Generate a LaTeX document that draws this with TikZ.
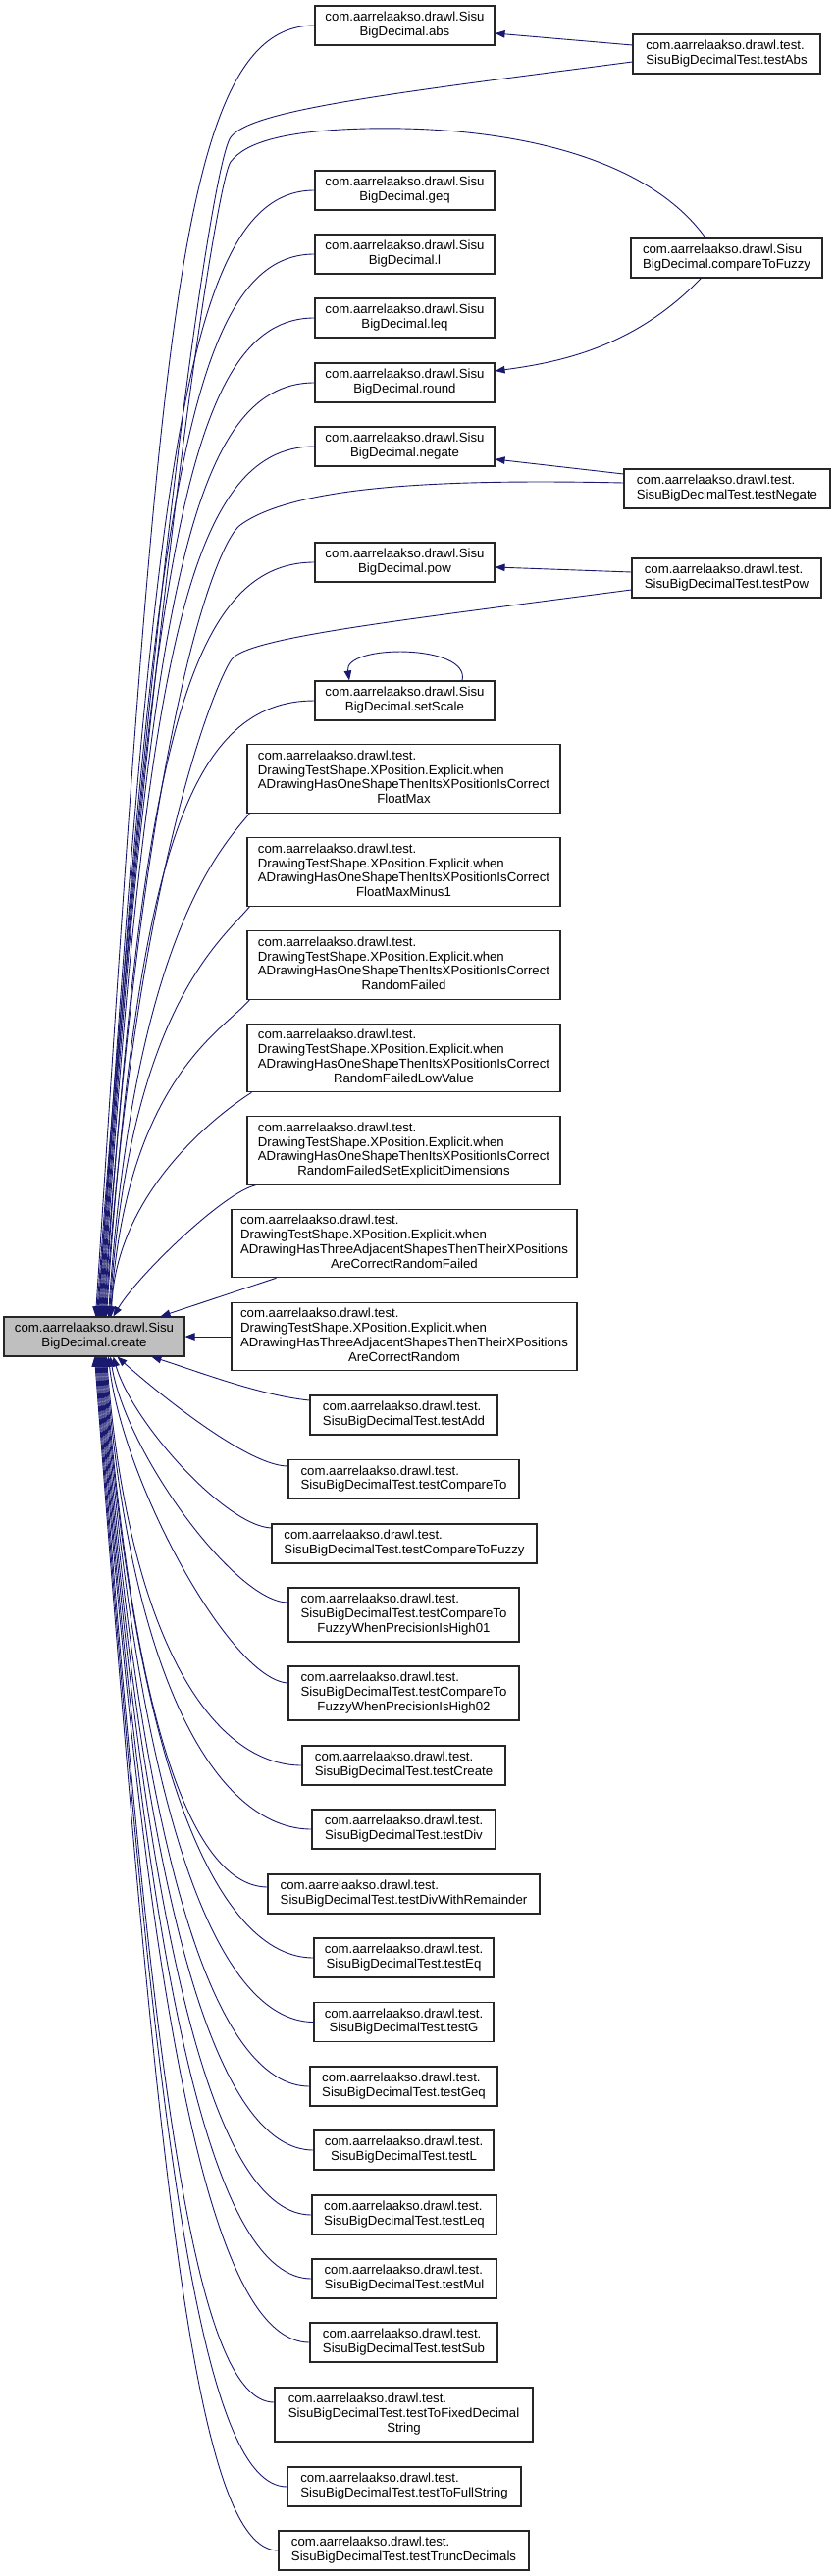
\documentclass[tikz,border=0pt]{standalone}
\usepackage{fontspec}
\setmainfont{Liberation Sans}
\usetikzlibrary{arrows.meta,calc}
\definecolor{edgeblue}{RGB}{25,25,112}
\newcommand{\lbl}[2]{\begin{tabular}{@{}l@{}}#1\\\multicolumn{1}{@{}c@{}}{#2}\end{tabular}}
\begin{document}
\begin{tikzpicture}[x=1pt,y=-1pt,
  box/.style={draw=black!85, line width=1.1pt, fill=white, inner sep=0pt,
    font=\fontsize{13.2}{14.7}\selectfont, minimum height=40pt},
  rootbox/.style={box, fill=black!25},
  tall/.style={minimum height=55pt},
  taller/.style={minimum height=69.5pt},
  edge/.style={draw=edgeblue, line width=0.9pt},
  arr/.style={edge, -{Triangle[length=10pt,width=7.5pt]}}]
\useasboundingbox[fill=white] (0,0) rectangle (851,2625);

% ---------- nodes ----------
\node[rootbox, minimum width=184pt] (create) at (96,1362) {\lbl{com.aarrelaakso.drawl.Sisu}{BigDecimal.create}};

\node[box, minimum width=183pt] (abs) at (412.5,26) {\lbl{com.aarrelaakso.drawl.Sisu}{BigDecimal.abs}};
\node[box, minimum width=183pt] (geq) at (412.5,194) {\lbl{com.aarrelaakso.drawl.Sisu}{BigDecimal.geq}};
\node[box, minimum width=183pt] (l) at (412.5,259) {\lbl{com.aarrelaakso.drawl.Sisu}{BigDecimal.l}};
\node[box, minimum width=183pt] (leq) at (412.5,324) {\lbl{com.aarrelaakso.drawl.Sisu}{BigDecimal.leq}};
\node[box, minimum width=183pt] (round) at (412.5,390) {\lbl{com.aarrelaakso.drawl.Sisu}{BigDecimal.round}};
\node[box, minimum width=183pt] (negate) at (412.5,455) {\lbl{com.aarrelaakso.drawl.Sisu}{BigDecimal.negate}};
\node[box, minimum width=183pt] (pow) at (412.5,573) {\lbl{com.aarrelaakso.drawl.Sisu}{BigDecimal.pow}};
\node[box, minimum width=183pt] (setScale) at (412.5,714) {\lbl{com.aarrelaakso.drawl.Sisu}{BigDecimal.setScale}};

\node[box, minimum width=191pt] (testAbs) at (740.5,55) {\lbl{com.aarrelaakso.drawl.test.}{SisuBigDecimalTest.testAbs}};
\node[box, minimum width=195pt] (cmpFuzzy) at (740.5,263) {\lbl{com.aarrelaakso.drawl.Sisu}{BigDecimal.compareToFuzzy}};
\node[box, minimum width=210pt] (testNegate) at (741,498) {\lbl{com.aarrelaakso.drawl.test.}{SisuBigDecimalTest.testNegate}};
\node[box, minimum width=193pt] (testPow) at (740.5,589) {\lbl{com.aarrelaakso.drawl.test.}{SisuBigDecimalTest.testPow}};

\node[box, taller, minimum width=319pt] (fmax) at (411.5,793.5) {\lbl{com.aarrelaakso.drawl.test.\\DrawingTestShape.XPosition.Explicit.when\\ADrawingHasOneShapeThenItsXPositionIsCorrect}{FloatMax}};
\node[box, taller, minimum width=319pt] (fmaxm) at (411.5,888.5) {\lbl{com.aarrelaakso.drawl.test.\\DrawingTestShape.XPosition.Explicit.when\\ADrawingHasOneShapeThenItsXPositionIsCorrect}{FloatMaxMinus1}};
\node[box, taller, minimum width=319pt] (rfail) at (411.5,983.5) {\lbl{com.aarrelaakso.drawl.test.\\DrawingTestShape.XPosition.Explicit.when\\ADrawingHasOneShapeThenItsXPositionIsCorrect}{RandomFailed}};
\node[box, taller, minimum width=319pt] (rflow) at (411.5,1078) {\lbl{com.aarrelaakso.drawl.test.\\DrawingTestShape.XPosition.Explicit.when\\ADrawingHasOneShapeThenItsXPositionIsCorrect}{RandomFailedLowValue}};
\node[box, taller, minimum width=319pt] (rfsed) at (411.5,1172.5) {\lbl{com.aarrelaakso.drawl.test.\\DrawingTestShape.XPosition.Explicit.when\\ADrawingHasOneShapeThenItsXPositionIsCorrect}{RandomFailedSetExplicitDimensions}};
\node[box, taller, minimum width=352pt] (threerf) at (412,1267) {\lbl{com.aarrelaakso.drawl.test.\\DrawingTestShape.XPosition.Explicit.when\\ADrawingHasThreeAdjacentShapesThenTheirXPositions}{AreCorrectRandomFailed}};
\node[box, taller, minimum width=352pt] (threer) at (412,1362) {\lbl{com.aarrelaakso.drawl.test.\\DrawingTestShape.XPosition.Explicit.when\\ADrawingHasThreeAdjacentShapesThenTheirXPositions}{AreCorrectRandom}};

\node[box, minimum width=191pt] (testAdd) at (411.5,1442) {\lbl{com.aarrelaakso.drawl.test.}{SisuBigDecimalTest.testAdd}};
\node[box, minimum width=235pt] (testCmp) at (411.5,1507.5) {\lbl{com.aarrelaakso.drawl.test.}{SisuBigDecimalTest.testCompareTo}};
\node[box, minimum width=270pt] (testCmpF) at (412,1573) {\lbl{com.aarrelaakso.drawl.test.}{SisuBigDecimalTest.testCompareToFuzzy}};
\node[box, tall, minimum width=235pt] (high1) at (411.5,1645.5) {\lbl{com.aarrelaakso.drawl.test.\\SisuBigDecimalTest.testCompareTo}{FuzzyWhenPrecisionIsHigh01}};
\node[box, tall, minimum width=235pt] (high2) at (411.5,1725.5) {\lbl{com.aarrelaakso.drawl.test.\\SisuBigDecimalTest.testCompareTo}{FuzzyWhenPrecisionIsHigh02}};
\node[box, minimum width=207pt] (testCreate) at (411.5,1799) {\lbl{com.aarrelaakso.drawl.test.}{SisuBigDecimalTest.testCreate}};
\node[box, minimum width=187pt] (testDiv) at (411.5,1864) {\lbl{com.aarrelaakso.drawl.test.}{SisuBigDecimalTest.testDiv}};
\node[box, minimum width=277pt] (testDWR) at (411.5,1930) {\lbl{com.aarrelaakso.drawl.test.}{SisuBigDecimalTest.testDivWithRemainder}};
\node[box, minimum width=183pt] (testEq) at (411.5,1995) {\lbl{com.aarrelaakso.drawl.test.}{SisuBigDecimalTest.testEq}};
\node[box, minimum width=183pt] (testG) at (411.5,2060.5) {\lbl{com.aarrelaakso.drawl.test.}{SisuBigDecimalTest.testG}};
\node[box, minimum width=191pt] (testGeq) at (411.5,2126) {\lbl{com.aarrelaakso.drawl.test.}{SisuBigDecimalTest.testGeq}};
\node[box, minimum width=183pt] (testL) at (411.5,2191) {\lbl{com.aarrelaakso.drawl.test.}{SisuBigDecimalTest.testL}};
\node[box, minimum width=188pt] (testLeq) at (412,2257) {\lbl{com.aarrelaakso.drawl.test.}{SisuBigDecimalTest.testLeq}};
\node[box, minimum width=188pt] (testMul) at (412,2322) {\lbl{com.aarrelaakso.drawl.test.}{SisuBigDecimalTest.testMul}};
\node[box, minimum width=191pt] (testSub) at (411.5,2387) {\lbl{com.aarrelaakso.drawl.test.}{SisuBigDecimalTest.testSub}};
\node[box, tall, minimum width=263pt] (testFDS) at (411.5,2460.5) {\lbl{com.aarrelaakso.drawl.test.\\SisuBigDecimalTest.testToFixedDecimal}{String}};
\node[box, minimum width=238pt] (testFull) at (412,2534) {\lbl{com.aarrelaakso.drawl.test.}{SisuBigDecimalTest.testToFullString}};
\node[box, minimum width=255pt] (testTrunc) at (411.5,2599) {\lbl{com.aarrelaakso.drawl.test.}{SisuBigDecimalTest.testTruncDecimals}};

% ---------- edges into create (from above) ----------
\draw[arr] (abs.west) .. controls (180,26) and (162,350) .. ($(create.north west)+(94,0)$);
\draw[arr] ($(testAbs.west)+(0,8)$) .. controls (400,95) and (255,112) .. (235,140)
   .. controls (215,168) and (149,642) .. ($(create.north west)+(95,0)$);
\draw[arr] ($(cmpFuzzy.north)+(-21.5,0)$) .. controls (660,160) and (520,128) .. (374,131)
   .. controls (290,133) and (250,145) .. (235,165)
   .. controls (220,185) and (150,650) .. ($(create.north west)+(96,0)$);
\draw[arr] (geq.west) .. controls (189,194) and (157,481) .. ($(create.north west)+(97,0)$);
\draw[arr] (l.west) .. controls (190,259) and (155,530) .. ($(create.north west)+(98,0)$);
\draw[arr] (leq.west) .. controls (190,324) and (153,578) .. ($(create.north west)+(99,0)$);
\draw[arr] (round.west) .. controls (191,390) and (150,628) .. ($(create.north west)+(100,0)$);
\draw[arr] (negate.west) .. controls (191,455) and (148,677) .. ($(create.north west)+(101,0)$);
\draw[arr] ($(testNegate.west)+(0,-6)$) .. controls (450,488) and (300,495) .. (245,535)
   .. controls (220,553) and (146,742) .. ($(create.north west)+(102,0)$);
\draw[arr] (pow.west) .. controls (193,573) and (144,765) .. ($(create.north west)+(103,0)$);
\draw[arr] ($(testPow.west)+(0,12)$) .. controls (400,633) and (252,650) .. (236,672)
   .. controls (220,694) and (138,892) .. ($(create.north west)+(104,0)$);
\draw[arr] (setScale.west) .. controls (194,714) and (140,871) .. ($(create.north west)+(105,0)$);
\draw[arr] ($(fmax.south west)+(3,0)$) .. controls (225,864) and (136,957) .. ($(create.north west)+(107,0)$);
\draw[arr] ($(fmaxm.south west)+(3,0)$) .. controls (225,959) and (132,1028) .. ($(create.north west)+(108,0)$);
\draw[arr] ($(rfail.south west)+(3,0)$) .. controls (228,1050) and (129,1099) .. ($(create.north west)+(109,0)$);
\draw[arr] ($(rflow.south west)+(5,0)$) .. controls (222,1135) and (118,1215) .. ($(create.north west)+(110,0)$);
\draw[arr] ($(rfsed.south west)+(9,0)$) .. controls (228,1215) and (140,1300) .. ($(create.north west)+(112,0)$);
\draw[arr] ($(threerf.south west)+(46,0)$) -- ($(create.north east)+(-25,0)$);
\draw[arr] (threer.west) -- (create.east);

% ---------- edges into create (from below) ----------
\draw[arr] ($(testAdd.west)+(0,-15)$) .. controls (265,1422) and (200,1397) .. ($(create.south west)+(151,0)$);
\draw[arr] ($(testCmp.west)+(0,-13.5)$) .. controls (250,1494) and (150,1410) .. ($(create.south west)+(116,0)$);
\draw[arr] ($(testCmpF.west)+(0,-16)$) .. controls (230,1555) and (135,1450) .. ($(create.south west)+(112,0)$);
\draw[arr] ($(high1.west)+(0,-12.5)$) .. controls (240,1633) and (128,1480) .. ($(create.south west)+(109,0)$);
\draw[arr] ($(high2.west)+(0,-10.5)$) .. controls (235,1712) and (125,1510) .. ($(create.south west)+(107,0)$);
\draw[arr] (testCreate.west) .. controls (218,1799) and (131,1674) .. ($(create.south west)+(105,0)$);
\draw[arr] (testDiv.west) .. controls (224,1864) and (133,1719) .. ($(create.south west)+(104,0)$);
\draw[arr] ($(testDWR.west)+(0,-7)$) .. controls (198,1922) and (136,1765) .. ($(create.south west)+(103,0)$);
\draw[arr] (testEq.west) .. controls (224,1995) and (138,1811) .. ($(create.south west)+(102,0)$);
\draw[arr] (testG.west) .. controls (223,2060) and (141,1857) .. ($(create.south west)+(101,0)$);
\draw[arr] (testGeq.west) .. controls (221,2126) and (143,1903) .. ($(create.south west)+(100,0)$);
\draw[arr] (testL.west) .. controls (222,2191) and (145,1948) .. ($(create.south west)+(99,0)$);
\draw[arr] (testLeq.west) .. controls (221,2257) and (148,1994) .. ($(create.south west)+(98,0)$);
\draw[arr] (testMul.west) .. controls (220,2322) and (150,2040) .. ($(create.south west)+(97,0)$);
\draw[arr] (testSub.west) .. controls (219,2387) and (153,2085) .. ($(create.south west)+(96,0)$);
\draw[arr] ($(testFDS.west)+(0,-12.5)$) .. controls (199,2448) and (155,2128) .. ($(create.south west)+(95,0)$);
\draw[arr] (testFull.west) .. controls (205,2534) and (158,2187) .. ($(create.south west)+(94,0)$);
\draw[arr] (testTrunc.west) .. controls (200,2599) and (161,2232) .. ($(create.south west)+(93,0)$);

% ---------- other edges ----------
\draw[arr] ($(testAbs.west)+(0,-9)$) -- ($(abs.east)+(0,8)$);
\draw[arr] ($(cmpFuzzy.south)+(-26,0)$) .. controls (650,350) and (580,368) .. ($(round.east)+(0,-12)$);
\draw[arr] ($(testNegate.west)+(0,-15)$) -- ($(negate.east)+(0,13)$);
\draw[arr] ($(testPow.west)+(0,-6)$) -- ($(pow.east)+(0,5)$);
\draw[arr] ($(setScale.north)+(58.5,0)$) .. controls (480,656) and (350,656) .. ($(setScale.north)+(-56.5,0)$);
\end{tikzpicture}
\end{document}
